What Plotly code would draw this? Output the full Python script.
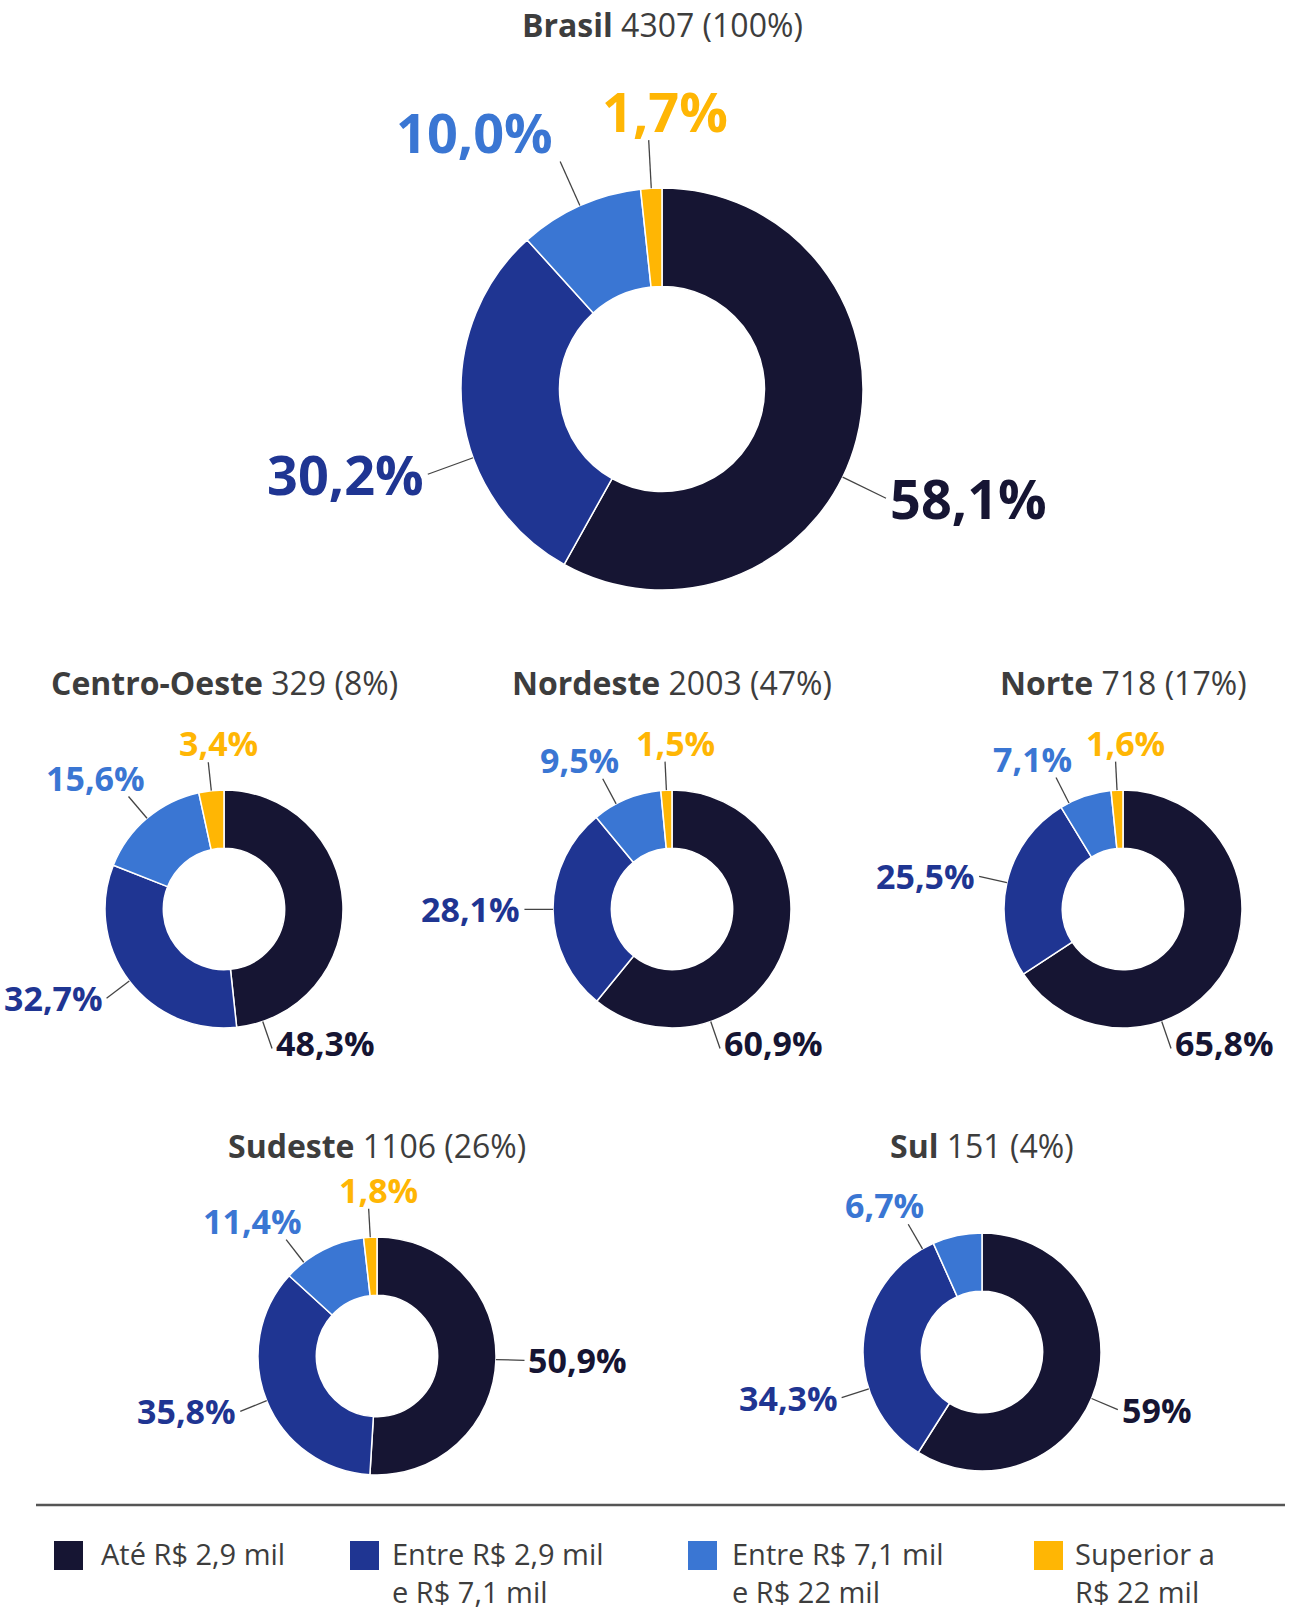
import math
import plotly.graph_objects as go

# ---------------- data ----------------
categories = [
    "Até R$ 2,9 mil",
    "Entre R$ 2,9 mil e R$ 7,1 mil",
    "Entre R$ 7,1 mil e R$ 22 mil",
    "Superior a R$ 22 mil",
]
legend_lines = [
    ["Até R$ 2,9 mil"],
    ["Entre R$ 2,9 mil", "e R$ 7,1 mil"],
    ["Entre R$ 7,1 mil", "e R$ 22 mil"],
    ["Superior a", "R$ 22 mil"],
]
regions = ["Brasil", "Centro-Oeste", "Nordeste", "Norte", "Sudeste", "Sul"]
totals = [4307, 329, 2003, 718, 1106, 151]
shares = [100, 8, 47, 17, 26, 4]

brasil = [58.1, 30.2, 10.0, 1.7]
centro_oeste = [48.3, 32.7, 15.6, 3.4]
nordeste = [60.9, 28.1, 9.5, 1.5]
norte = [65.8, 25.5, 7.1, 1.6]
sudeste = [50.9, 35.8, 11.4, 1.8]
sul = [59, 34.3, 6.7]
values = [brasil, centro_oeste, nordeste, norte, sudeste, sul]

# ---------------- style / layout ----------------
colors = ["#161533", "#1f3592", "#3a76d3", "#ffb604"]
W, H = 1294, 1615
FONT = "Open Sans"
TITLE_COLOR = "#3d3d3d"

# panel geometry in pixels: centre x, centre y, radius, title y, label font size
panels = {
    "Brasil": (662, 389, 201, 25, 54),
    "Centro-Oeste": (224, 909, 119, 682, 34),
    "Nordeste": (672, 909, 119, 682, 34),
    "Norte": (1123, 909, 119, 682, 34),
    "Sudeste": (377, 1356, 119, 1145, 34),
    "Sul": (982, 1352, 119, 1145, 34),
}
# label connector angle adjustments (degrees clockwise from 12 o'clock)
label_angle = {
    ("Brasil", 0): 116, ("Brasil", 1): 250,
    ("Centro-Oeste", 0): 161, ("Nordeste", 0): 161, ("Norte", 0): 161,
    ("Nordeste", 2): 332, ("Norte", 2): 333,
    ("Sudeste", 2): 322,
    ("Sul", 0): 113, ("Sul", 1): 252, ("Sul", 2): 330,
}


def px(x):
    return x / W


def py(y):
    return 1 - y / H


def fmt(v):
    if isinstance(v, int):
        return f"{v}%"
    return f"{v:.1f}".replace(".", ",") + "%"


fig = go.Figure()
annotations = []
shapes = []

for reg, tot, sh, vals in zip(regions, totals, shares, values):
    cx, cy, R, ty, fs = panels[reg]
    fig.add_trace(go.Pie(
        values=vals,
        labels=categories[:len(vals)],
        sort=False,
        direction="clockwise",
        rotation=0,
        hole=0.51,
        marker=dict(colors=colors[:len(vals)], line=dict(color="white", width=1.5)),
        textinfo="none",
        hoverinfo="label+percent",
        showlegend=False,
        domain=dict(x=[px(cx - R), px(cx + R)], y=[py(cy + R), py(cy - R)]),
    ))
    # title
    annotations.append(dict(
        x=px(cx), y=py(ty), xref="paper", yref="paper",
        text=f"<b>{reg}</b> {tot} ({sh}%)", showarrow=False,
        xanchor="center", yanchor="middle",
        font=dict(family=FONT, size=32, color=TITLE_COLOR),
    ))
    # labels
    total = sum(vals)
    cum = 0
    for i, v in enumerate(vals):
        mid = (cum + v / 2) / total * 360
        cum += v
        ang = label_angle.get((reg, i), mid)
        t = math.radians(ang)
        s, c = math.sin(t), math.cos(t)
        x0, y0 = cx + R * s, cy - R * c
        x1, y1 = cx + 1.24 * R * s, cy - 1.24 * R * c
        shapes.append(dict(type="line", xref="paper", yref="paper",
                           x0=px(x0), y0=py(y0), x1=px(x1), y1=py(y1),
                           line=dict(color="#444444", width=1.3)))
        if c > 0.75:
            yanchor = "bottom"
            if abs(s) < 0.25:
                xanchor, xs = "center", 0.3 * fs
            else:
                off = 18 if R < 150 else -5
                xanchor, xs = ("right", off) if s < 0 else ("left", -off)
            ys = -0.18 * fs
        else:
            yanchor = "middle"
            ys = 6 if c < -0.75 else 0
            xanchor, xs = ("left", 2) if s > 0 else ("right", -2)
        annotations.append(dict(
            x=px(x1), y=py(y1), xref="paper", yref="paper",
            text=f"<b>{fmt(v)}</b>", showarrow=False,
            xanchor=xanchor, yanchor=yanchor, xshift=xs, yshift=ys,
            font=dict(family=FONT, size=fs, color=colors[i]),
        ))

# separator line
shapes.append(dict(type="line", xref="paper", yref="paper",
                   x0=px(36), x1=px(1285), y0=py(1505), y1=py(1505),
                   line=dict(color="#555555", width=2.5)))

# legend
sq_x = [54, 350, 688, 1034]
tx_x = [100, 391, 731, 1074]
for i, lines in enumerate(legend_lines):
    shapes.append(dict(type="rect", xref="paper", yref="paper",
                       x0=px(sq_x[i]), x1=px(sq_x[i] + 29), y0=py(1570), y1=py(1541),
                       fillcolor=colors[i], line=dict(width=0)))
    annotations.append(dict(
        x=px(tx_x[i]), y=py(1533), xref="paper", yref="paper",
        text="<br>".join(lines), showarrow=False, xanchor="left", yanchor="top",
        align="left", borderpad=0,
        font=dict(family=FONT, size=29, color=TITLE_COLOR),
    ))

fig.update_layout(
    width=W, height=H,
    margin=dict(l=0, r=0, t=0, b=0),
    paper_bgcolor="white", plot_bgcolor="white",
    annotations=annotations, shapes=shapes,
    font=dict(family=FONT),
)
fig.write_html("out.html",
               config={"displayModeBar": False},
               post_script="document.body.style.margin='0';document.body.style.overflow='hidden';")
